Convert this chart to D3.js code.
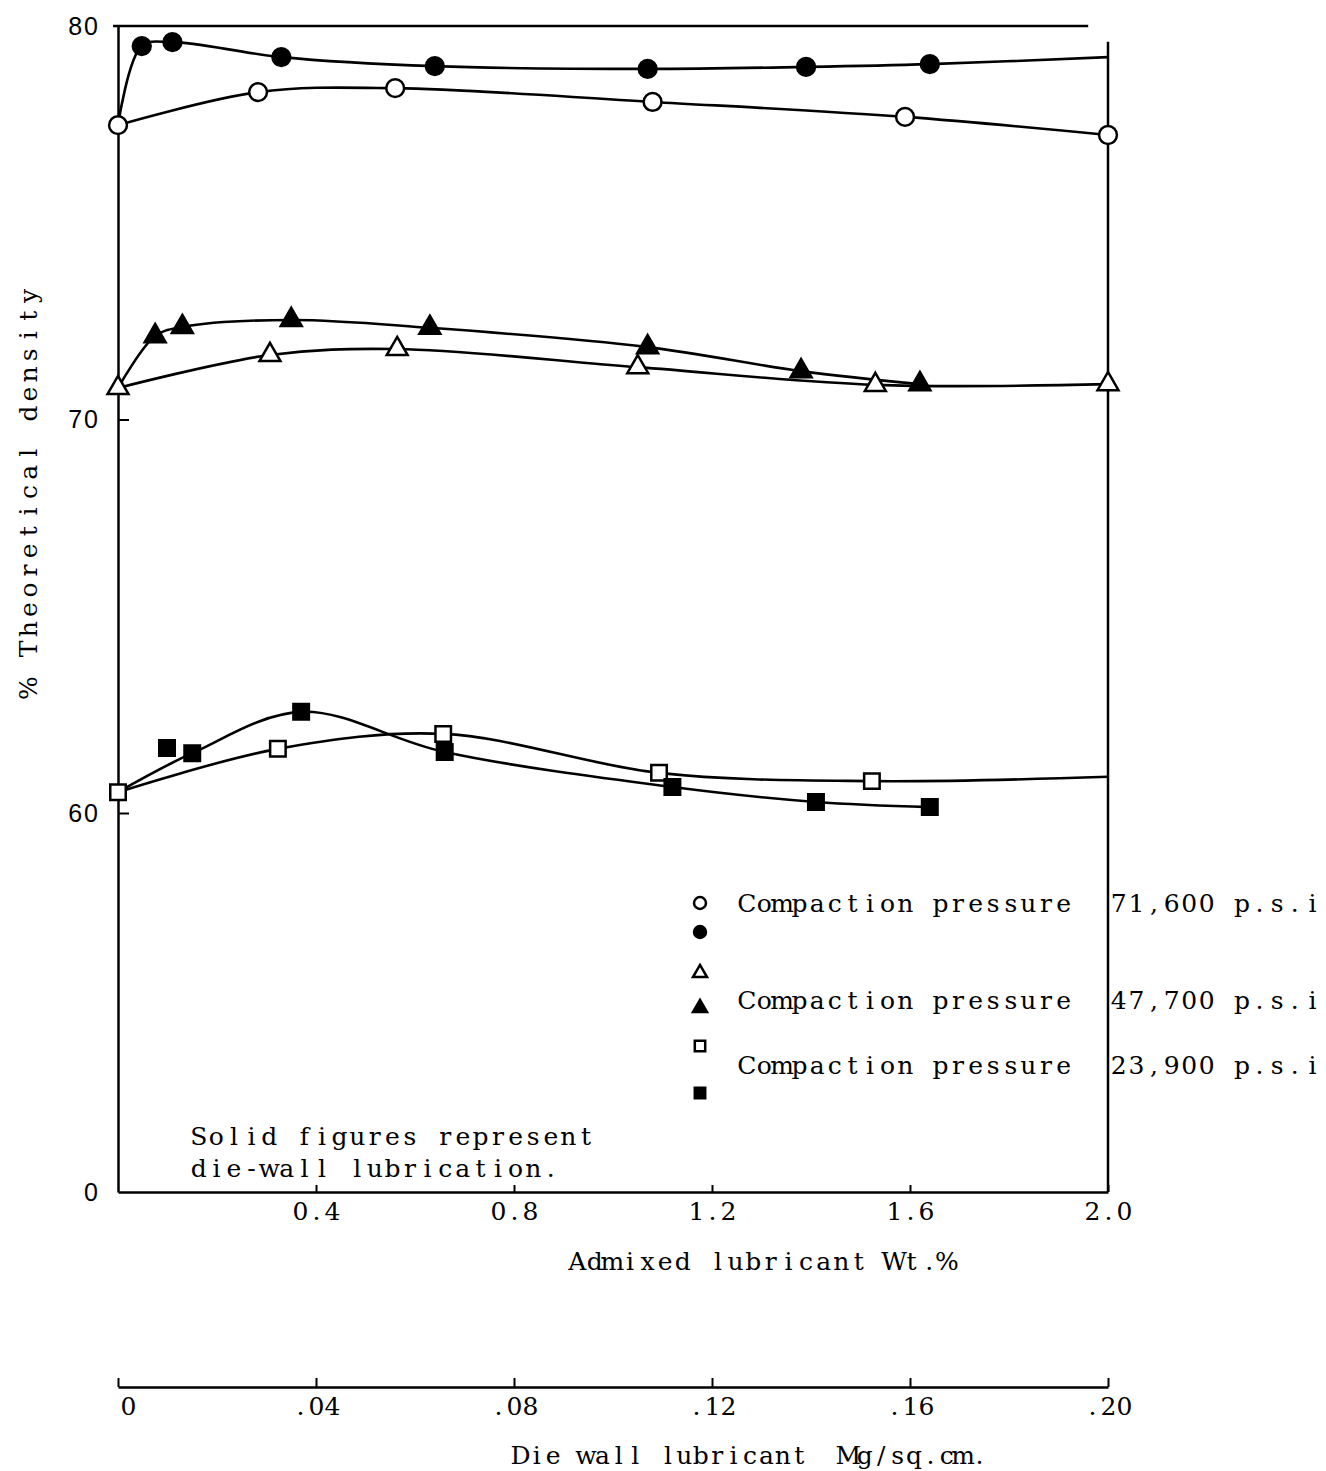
<!DOCTYPE html>
<meta charset="utf-8">
<title>Theoretical density vs lubricant</title>
<head>
    <script src="https://cdn.jsdelivr.net/npm/d3@7"></script>
</head>
<body style="margin: 0px; background: #fff">
<script>

    // open markers: admixed lubricant Wt.%   solid markers: die wall lubricant Mg/sq.cm.
    var circleOpenX = [0, 0.283, 0.56, 1.08, 1.59, 2.0],
        circleOpenY = [77.48, 78.32, 78.42, 78.07, 77.69, 77.23];
    var circleSolidX = [0, 0.0048, 0.011, 0.033, 0.064, 0.107, 0.139, 0.164, 0.20],
        circleSolidY = [77.48, 79.49, 79.59, 79.21, 78.98, 78.91, 78.96, 79.03, 79.21];

    var triOpenX = [0, 0.307, 0.564, 1.05, 1.53, 2.0],
        triOpenY = [70.8, 71.64, 71.79, 71.33, 70.88, 70.9];
    var triSolidX = [0, 0.0075, 0.013, 0.035, 0.063, 0.107, 0.138, 0.162],
        triSolidY = [70.8, 72.12, 72.35, 72.53, 72.33, 71.84, 71.23, 70.9];

    var squareOpenX = [0, 0.323, 0.657, 1.093, 1.523, 2.0],
        squareOpenY = [60.53, 61.63, 62.01, 61.02, 60.81, 60.92];
    var squareSolidX = [0, 0.0099, 0.015, 0.037, 0.066, 0.112, 0.141, 0.164],
        squareSolidY = [60.53, 61.65, 61.52, 62.57, 61.55, 60.66, 60.28, 60.15];

    var yTicks = [0, 60, 70, 80],
        xTicks = [0.4, 0.8, 1.2, 1.6, 2.0],
        dieTicks = [0, 0.04, 0.08, 0.12, 0.16, 0.20];
    var pressures = ["71,600 p.s.i", "47,700 p.s.i", "23,900 p.s.i"];

    var width = 1326,
        height = 1471;
    // typewriter look: serif glyphs on a fixed pitch
    var serif = "'DejaVu Serif', serif";

    var svg = d3.select("body").append("svg")
            .attr("width", width)
            .attr("height", height)
            .style("font-family", serif);

    var x = d3.scaleLinear().domain([0, 2]).range([118, 1108]),
        xDie = d3.scaleLinear().domain([0, 0.2]).range([118, 1108]),
        y = d3.scaleLinear().domain([0, 60, 80]).range([1192, 813, 26]);

    function typewrite(sel, pitch, anchor) {
        sel.each(function () {
            var t = d3.select(this), s = t.text(), n = s.length,
                x0 = +t.attr("x") || 0,
                first = anchor == "middle" ? x0 - pitch * (n - 1) / 2 : x0 + pitch / 2;
            t.attr("x", d3.range(n).map(function (i) { return (first + i * pitch).toFixed(1); }).join(" "))
                    .attr("text-anchor", "middle")
                    .style("white-space", "pre")
                    .style("font-family", serif);
        });
    }

    // series: which x scale, which points carry no marker, which are off the curve
    var series = [
        {xs: circleOpenX, ys: circleOpenY, sc: x, sym: d3.symbolCircle, size: 250, solid: false, noMark: [], offCurve: []},
        {xs: circleSolidX, ys: circleSolidY, sc: xDie, sym: d3.symbolCircle, size: 250, solid: true, noMark: [0, 8], offCurve: []},
        {xs: triOpenX, ys: triOpenY, sc: x, sym: d3.symbolTriangle, size: 190, solid: false, noMark: [], offCurve: []},
        {xs: triSolidX, ys: triSolidY, sc: xDie, sym: d3.symbolTriangle, size: 190, solid: true, noMark: [0], offCurve: []},
        {xs: squareOpenX, ys: squareOpenY, sc: x, sym: d3.symbolSquare, size: 240, solid: false, noMark: [5], offCurve: []},
        {xs: squareSolidX, ys: squareSolidY, sc: xDie, sym: d3.symbolSquare, size: 240, solid: true, noMark: [0], offCurve: [1]}
    ];

    // frame
    var frame = svg.append("g").attr("stroke", "#000").attr("stroke-width", 2.5);
    frame.append("line")
            .attr("x1", x(-0.01)).attr("x2", x(1.96))
            .attr("y1", y(80)).attr("y2", y(80));
    frame.append("line")
            .attr("x1", x(2)).attr("x2", x(2))
            .attr("y1", y(79.6)).attr("y2", y(0));

    var yAxis = svg.append("g")
            .attr("transform", "translate(" + x(0) + ",0)")
            .call(d3.axisLeft(y).tickValues(yTicks).tickSize(-11).tickSizeOuter(0).tickPadding(18)
                    .tickFormat(d3.format("d")));
    yAxis.select(".domain").attr("stroke-width", 2.5);
    yAxis.selectAll(".tick line").attr("stroke-width", 2)
            .attr("display", function (d) { return (d == 0 || d == 80) ? "none" : null; });
    yAxis.selectAll(".tick text")
            .style("font-family", "'Liberation Sans', Arial, sans-serif")
            .style("font-size", "25px").style("letter-spacing", "2px");

    var xAxis = svg.append("g")
            .attr("transform", "translate(0," + y(0) + ")")
            .call(d3.axisBottom(x).tickValues(xTicks).tickSize(-7).tickSizeOuter(0).tickPadding(10)
                    .tickFormat(d3.format(".1f")));
    xAxis.select(".domain").attr("stroke-width", 2.5);
    xAxis.selectAll(".tick line").attr("stroke-width", 2);
    xAxis.selectAll(".tick text").style("font-size", "25px").call(typewrite, 16, "middle");

    var dieAxis = svg.append("g")
            .attr("transform", "translate(0,1387)")
            .call(d3.axisBottom(xDie).tickValues(dieTicks).tickSize(-9).tickSizeOuter(0).tickPadding(10)
                    .tickFormat(function (d) { return d == 0 ? "0" : d3.format(".2f")(d).replace(/^0/, ""); }));
    dieAxis.select(".domain").attr("stroke-width", 2.5);
    dieAxis.selectAll(".tick line").attr("stroke-width", 2);
    dieAxis.selectAll(".tick text").style("font-size", "25px").call(typewrite, 16, "middle")
            .attr("dx", function (d) { return d == 0 ? 10 : 0; });
    svg.selectAll(".domain").attr("stroke", "#000");

    // axis titles and note
    var txt = function (s, tx, ty, anchor, pitch) {
        return svg.append("text").attr("x", tx).attr("y", ty)
                .style("font-size", "25px")
                .text(s)
                .call(typewrite, pitch || 17.6, anchor || "start");
    };
    txt("Admixed lubricant Wt.%", 762, 1270, "middle");
    txt("Die wall lubricant  Mg/sq.cm.", 750, 1464, "middle", 16.4);
    svg.append("text")
            .attr("transform", "translate(37,492) rotate(-90)")
            .style("font-size", "25px")
            .text("% Theoretical density")
            .call(typewrite, 19.6, "middle");
    txt("Solid figures represent", 190, 1145);
    txt("die-wall lubrication.", 190, 1177);

    // curves
    var line = d3.line().curve(d3.curveCatmullRom.alpha(0.5));
    series.forEach(function (s) {
        var pts = s.xs.map(function (v, i) { return [s.sc(v), y(s.ys[i])]; })
                .filter(function (p, i) { return s.offCurve.indexOf(i) < 0; });
        svg.append("path")
                .attr("d", line(pts))
                .attr("fill", "none")
                .attr("stroke", "#000")
                .attr("stroke-width", 2.6);
    });

    // markers
    series.forEach(function (s) {
        var idx = d3.range(s.xs.length).filter(function (i) { return s.noMark.indexOf(i) < 0; });
        svg.append("g").selectAll("path").data(idx).enter().append("path")
                .attr("transform", function (i) { return "translate(" + s.sc(s.xs[i]) + "," + y(s.ys[i]) + ")"; })
                .attr("d", d3.symbol().type(s.sym).size(s.size))
                .attr("fill", s.solid ? "#000" : "#fff")
                .attr("stroke", "#000")
                .attr("stroke-width", 2.5);
    });

    // legend
    var legendMarks = [[903, 0], [932, 1], [973, 2], [1008, 3], [1046, 4], [1093, 5]];
    svg.append("g").selectAll("path").data(legendMarks).enter().append("path")
            .attr("transform", function (d) { return "translate(700," + d[0] + ")"; })
            .attr("d", function (d) { return d3.symbol().type(series[d[1]].sym).size(series[d[1]].size * 0.45)(); })
            .attr("fill", function (d) { return series[d[1]].solid ? "#000" : "#fff"; })
            .attr("stroke", "#000")
            .attr("stroke-width", 2.5);
    var legendRows = [912, 1009, 1074];
    legendRows.forEach(function (ly, i) {
        txt("Compaction pressure", 738, ly);
        txt(pressures[i], 1110, ly);
    });

</script>
</body>
